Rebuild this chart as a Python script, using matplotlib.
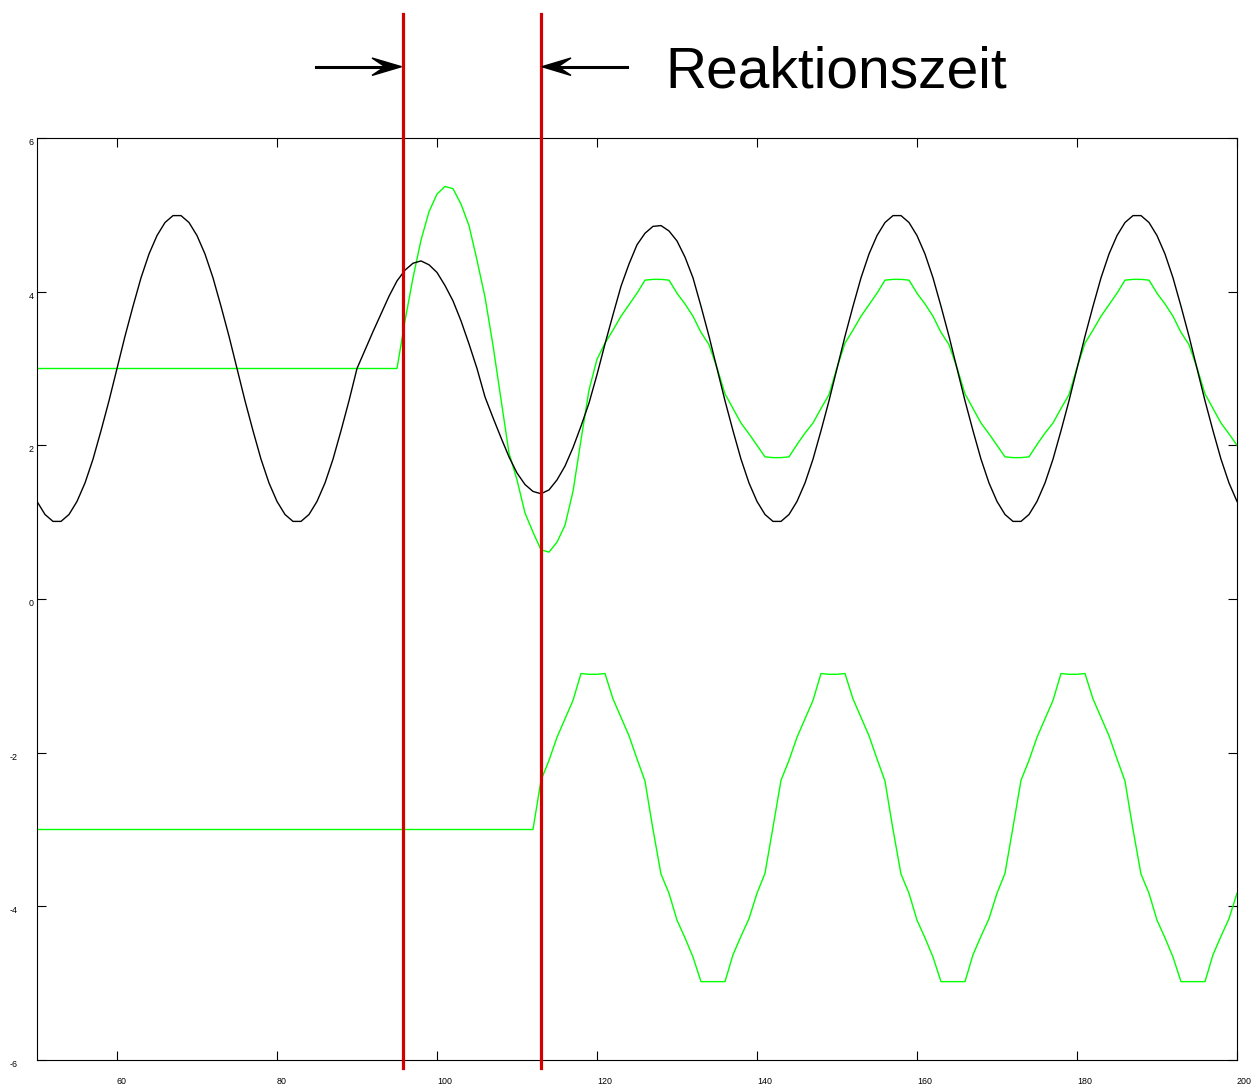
import numpy as np
import matplotlib
matplotlib.use("Agg")
import matplotlib.pyplot as plt
from matplotlib.patches import Polygon
from matplotlib.lines import Line2D

plt.rcParams['font.family'] = ['Liberation Sans', 'DejaVu Sans']
plt.rcParams['axes.unicode_minus'] = False

# ---------------- data ----------------
time = np.arange(50, 201)  # sample times, step 1

setpoint = [
    1.27, 1.10, 1.01, 1.01, 1.10, 1.27, 1.51, 1.82, 2.19, 2.58,   # 50-59
    3.00, 3.42, 3.81, 4.18, 4.49, 4.73, 4.90, 4.99, 4.99, 4.90,   # 60-69
    4.73, 4.49, 4.18, 3.81, 3.42, 3.00, 2.58, 2.19, 1.82, 1.51,   # 70-79
    1.27, 1.10, 1.01, 1.01, 1.10, 1.27, 1.51, 1.82, 2.19, 2.58,   # 80-89
    3.00, 3.24, 3.48, 3.71, 3.94, 4.14, 4.28, 4.37, 4.40, 4.35,   # 90-99
    4.25, 4.08, 3.88, 3.62, 3.32, 3.00, 2.63, 2.36, 2.10, 1.85,   # 100-109
    1.64, 1.49, 1.40, 1.37, 1.42, 1.55, 1.73, 1.97, 2.25, 2.55,   # 110-119
    2.92, 3.32, 3.70, 4.07, 4.36, 4.61, 4.76, 4.85, 4.86, 4.79,   # 120-129
    4.66, 4.45, 4.18, 3.81, 3.42, 3.00, 2.58, 2.19, 1.82, 1.51,   # 130-139
    1.27, 1.10, 1.01, 1.01, 1.10, 1.27, 1.51, 1.82, 2.19, 2.58,   # 140-149
    3.00, 3.42, 3.81, 4.18, 4.49, 4.73, 4.90, 4.99, 4.99, 4.90,   # 150-159
    4.73, 4.49, 4.18, 3.81, 3.42, 3.00, 2.58, 2.19, 1.82, 1.51,   # 160-169
    1.27, 1.10, 1.01, 1.01, 1.10, 1.27, 1.51, 1.82, 2.19, 2.58,   # 170-179
    3.00, 3.42, 3.81, 4.18, 4.49, 4.73, 4.90, 4.99, 4.99, 4.90,   # 180-189
    4.73, 4.49, 4.18, 3.81, 3.42, 3.00, 2.58, 2.19, 1.82, 1.51,   # 190-199
    1.27,                                                        # 200
]

response_upper = [3.00] * 45 + [                                  # 50-94
    3.00, 3.62, 4.18, 4.67, 5.04,                                 # 95-99
    5.27, 5.37, 5.34, 5.14, 4.86, 4.41, 3.93, 3.30, 2.60, 1.90,   # 100-109
    1.55, 1.12, 0.87, 0.64, 0.61, 0.74, 0.96, 1.40, 2.07, 2.72,   # 110-119
    3.12, 3.33, 3.50, 3.68, 3.83, 3.98, 4.15, 4.16, 4.16, 4.15,   # 120-129
    3.98, 3.84, 3.68, 3.47, 3.31, 3.01, 2.67, 2.48, 2.29, 2.15,   # 130-139
    2.00, 1.85, 1.84, 1.84, 1.85, 2.01, 2.16, 2.29, 2.48, 2.66,   # 140-149
    3.01, 3.33, 3.50, 3.68, 3.83, 3.98, 4.15, 4.16, 4.16, 4.15,   # 150-159
    3.98, 3.84, 3.68, 3.47, 3.31, 3.01, 2.67, 2.48, 2.29, 2.15,   # 160-169
    2.00, 1.85, 1.84, 1.84, 1.85, 2.01, 2.16, 2.29, 2.48, 2.66,   # 170-179
    3.01, 3.33, 3.50, 3.68, 3.83, 3.98, 4.15, 4.16, 4.16, 4.15,   # 180-189
    3.98, 3.84, 3.68, 3.47, 3.31, 3.01, 2.67, 2.48, 2.29, 2.15,   # 190-199
    2.00,                                                        # 200
]

response_lower = [-3.00] * 62 + [                                 # 50-111
    -3.00, -2.36, -2.10, -1.80, -1.56, -1.32, -0.97, -0.98, -0.98, -0.97,  # 112-121
    -1.30, -1.54, -1.78, -2.08, -2.37, -3.00, -3.58, -3.83, -4.18, -4.41,  # 122-131
    -4.66, -4.98, -4.98, -4.98, -4.98, -4.63, -4.39, -4.16, -3.83, -3.57,  # 132-141
    -2.97, -2.36, -2.10, -1.80, -1.56, -1.32, -0.97, -0.98, -0.98, -0.97,  # 142-151
    -1.30, -1.54, -1.78, -2.08, -2.37, -3.00, -3.58, -3.83, -4.18, -4.41,  # 152-161
    -4.66, -4.98, -4.98, -4.98, -4.98, -4.63, -4.39, -4.16, -3.83, -3.57,  # 162-171
    -2.97, -2.36, -2.10, -1.80, -1.56, -1.32, -0.97, -0.98, -0.98, -0.97,  # 172-181
    -1.30, -1.54, -1.78, -2.08, -2.37, -3.00, -3.58, -3.83, -4.18, -4.41,  # 182-191
    -4.66, -4.98, -4.98, -4.98, -4.98, -4.63, -4.39, -4.16, -3.83,         # 192-200
]

reaction_marks = [95.7, 113.0]
annotation_text = "Reaktionszeit"

xticks = [60, 80, 100, 120, 140, 160, 180, 200]
xtick_labels = ["60", "80", "100", "120", "140", "160", "180", "200"]
yticks = [-6, -4, -2, 0, 2, 4, 6]
ytick_labels = ["-6", "-4", "-2", "0", "2", "4", "6"]

# ---------------- figure ----------------
W, H = 1252, 1085
fig = plt.figure(figsize=(W / 100, H / 100), dpi=100)
ax = fig.add_axes([37 / W, 25 / H, 1200 / W, 922 / H])

ax.plot(time, setpoint, color="black", lw=1.0, zorder=3)
ax.plot(time, response_upper, color="#00ff00", lw=1.0, zorder=2)
ax.plot(time, response_lower, color="#00ff00", lw=1.0, zorder=2)

ax.set_xlim(50, 200)
ax.set_ylim(-6, 6)
ax.set_xticks(xticks)
ax.set_xticklabels(xtick_labels)
ax.set_yticks(yticks)
ax.set_yticklabels(ytick_labels)

for s in ax.spines.values():
    s.set_color("black")
    s.set_linewidth(0.8)

ax.tick_params(direction="in", length=6.5, width=0.8, top=True, right=True,
               labelsize=6.4, colors="black")
ax.tick_params(axis="x", pad=12)
for lab in ax.get_xticklabels():
    lab.set_horizontalalignment("left")

for t, val in zip(ax.yaxis.get_major_ticks(), yticks):
    t.set_pad(19.4 if val < 0 else 5.8)
    t.label1.set_horizontalalignment("left")
    t.label1.set_verticalalignment("top")

# red reaction-time marker lines (extend above the axes)
for xm in reaction_marks:
    ax.axvline(xm, ymin=-8 / 922, ymax=(1060 - 14) / 922, color="#d40000",
               lw=2.3, clip_on=False, zorder=5)

# arrows in figure pixel coordinates
def P(x, y):
    return (x / W, 1 - y / H)

ay = 66.7
fig.add_artist(Line2D([316 / W, 386 / W], [1 - ay / H] * 2, color="black",
                      lw=2.2, transform=fig.transFigure))
fig.add_artist(Polygon([P(401.5, ay), P(372, 58.0), P(385, ay), P(372, 75.4)],
                       closed=True, color="black", transform=fig.transFigure))
fig.add_artist(Line2D([557 / W, 627 / W], [1 - ay / H] * 2, color="black",
                      lw=2.2, transform=fig.transFigure))
fig.add_artist(Polygon([P(542, ay), P(571, 58.0), P(558, ay), P(571, 75.4)],
                       closed=True, color="black", transform=fig.transFigure))

fig.text(665 / W, 1 - 88 / H, annotation_text, fontsize=41, ha="left",
         va="baseline", color="black")

fig.savefig("out.png", dpi=100)
